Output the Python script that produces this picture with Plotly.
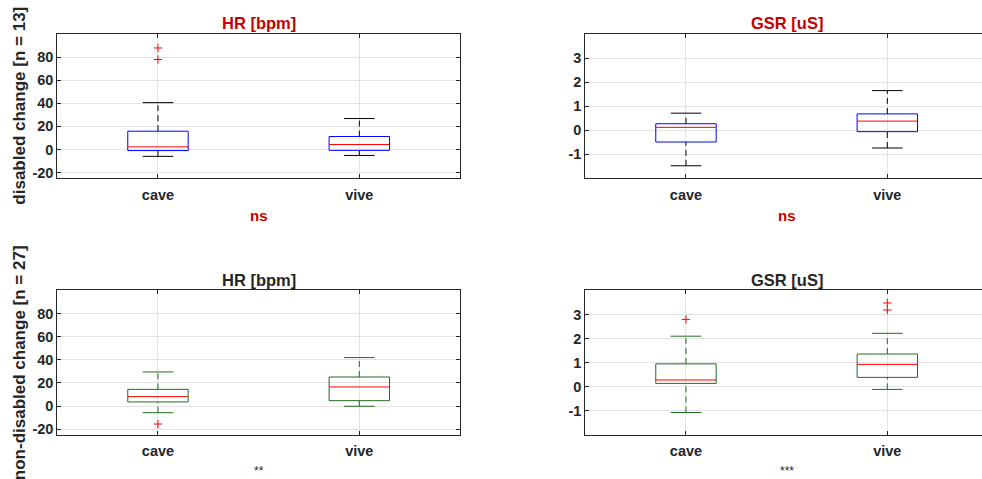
import plotly.graph_objects as go

# ---------------- data ----------------
categories = ["cave", "vive"]

# disabled (n = 13)
dis_hr_q1 = [-1.0, -0.8]
dis_hr_med = [2.2, 4.3]
dis_hr_q3 = [15.8, 11.2]
dis_hr_lo = [-6.0, -5.2]
dis_hr_hi = [40.6, 26.8]
dis_hr_out = [[88.0, 78.0], []]

dis_gsr_q1 = [-0.49, -0.06]
dis_gsr_med = [0.12, 0.38]
dis_gsr_q3 = [0.27, 0.68]
dis_gsr_lo = [-1.48, -0.74]
dis_gsr_hi = [0.71, 1.65]
dis_gsr_out = [[], []]

# non-disabled (n = 27)
nd_hr_q1 = [3.5, 4.6]
nd_hr_med = [8.1, 16.5]
nd_hr_q3 = [14.4, 25.1]
nd_hr_lo = [-5.8, -0.2]
nd_hr_hi = [29.5, 41.9]
nd_hr_out = [[-15.6], []]

nd_gsr_q1 = [0.14, 0.39]
nd_gsr_med = [0.28, 0.93]
nd_gsr_q3 = [0.95, 1.36]
nd_gsr_lo = [-1.07, -0.11]
nd_gsr_hi = [2.10, 2.22]
nd_gsr_out = [[2.80], [3.48, 3.19]]

hr_ticks = [-20, 0, 20, 40, 60, 80]
gsr_ticks = [-1, 0, 1, 2, 3]

# ---------------- style ----------------
W, H = 982, 479
TXT = "#262626"
RED_T = "#c40000"
BLUE = "#0000ff"
GREEN = "#226b22"
MED = "#ff0000"
GRID = "#e3e3e3"
FONT = "Liberation Sans, Arial, sans-serif"
BOX_HW = 0.15
CAP_HW = 0.076

fig = go.Figure()

panels = [
    ("x", "y", (dis_hr_q1, dis_hr_med, dis_hr_q3, dis_hr_lo, dis_hr_hi, dis_hr_out), BLUE, "#000000"),
    ("x2", "y2", (dis_gsr_q1, dis_gsr_med, dis_gsr_q3, dis_gsr_lo, dis_gsr_hi, dis_gsr_out), BLUE, "#000000"),
    ("x3", "y3", (nd_hr_q1, nd_hr_med, nd_hr_q3, nd_hr_lo, nd_hr_hi, nd_hr_out), GREEN, GREEN),
    ("x4", "y4", (nd_gsr_q1, nd_gsr_med, nd_gsr_q3, nd_gsr_lo, nd_gsr_hi, nd_gsr_out), GREEN, GREEN),
]

for xa, ya, stats, bcol, wcol in panels:
    q1s, meds, q3s, los, his, outs = stats
    for i in range(len(categories)):
        xc = i + 1
        common = dict(xaxis=xa, yaxis=ya, mode="lines", showlegend=False, hoverinfo="skip")
        # whiskers (dashed)
        fig.add_trace(go.Scatter(x=[xc, xc, None, xc, xc],
                                 y=[q3s[i], his[i], None, los[i], q1s[i]],
                                 line=dict(color=wcol, width=1, dash="6px,4px"), **common))
        # caps
        fig.add_trace(go.Scatter(x=[xc - CAP_HW, xc + CAP_HW, None, xc - CAP_HW, xc + CAP_HW],
                                 y=[his[i], his[i], None, los[i], los[i]],
                                 line=dict(color=wcol, width=1), **common))
        # box
        fig.add_trace(go.Scatter(x=[xc - BOX_HW, xc + BOX_HW, xc + BOX_HW, xc - BOX_HW, xc - BOX_HW],
                                 y=[q1s[i], q1s[i], q3s[i], q3s[i], q1s[i]],
                                 line=dict(color=bcol, width=1), **common))
        # median
        fig.add_trace(go.Scatter(x=[xc - BOX_HW, xc + BOX_HW], y=[meds[i], meds[i]],
                                 line=dict(color=MED, width=1), **common))
        # outliers
        if outs[i]:
            fig.add_trace(go.Scatter(x=[xc] * len(outs[i]), y=outs[i], xaxis=xa, yaxis=ya,
                                     mode="markers", showlegend=False, hoverinfo="skip",
                                     marker=dict(symbol="cross-thin", size=6,
                                                 line=dict(color=MED, width=1))))

# ---------------- axes ----------------
xl = [57.3 / W, 460.0 / W]
xr = [585.3 / W, 1.0]
yt = [1 - 179.0 / H, 1 - 34.3 / H]
yb = [1 - 436.7 / H, 1 - 291.7 / H]
px_per_unit = (460.0 - 57.3) / 2.0
right_max = 0.5 + (W - 585.3) / px_per_unit

tickfont = dict(family=FONT, size=14.5, color=TXT, weight="bold")


def xaxis(dom, anchor, rng):
    return dict(domain=dom, anchor=anchor, range=rng, tickvals=[1, 2], ticktext=categories,
                showgrid=True, gridcolor=GRID, gridwidth=1, zeroline=False,
                showline=True, linecolor=TXT, linewidth=1, mirror="ticks",
                ticks="inside", ticklen=4, tickcolor=TXT, tickfont=tickfont,
                ticklabelstandoff=3, fixedrange=True)


def yaxis(dom, anchor, rng, vals, mirror):
    return dict(domain=dom, anchor=anchor, range=rng, tickvals=vals,
                ticktext=[str(v) for v in vals],
                showgrid=True, gridcolor=GRID, gridwidth=1, zeroline=False,
                showline=True, linecolor=TXT, linewidth=1, mirror=mirror,
                ticks="inside", ticklen=4, tickcolor=TXT, tickfont=tickfont,
                fixedrange=True)


fig.update_layout(
    width=W, height=H,
    margin=dict(l=0, r=0, t=0, b=0),
    paper_bgcolor="white", plot_bgcolor="white",
    xaxis=xaxis(xl, "y", [0.5, 2.5]),
    yaxis=yaxis(yt, "x", [-25, 100], hr_ticks, "ticks"),
    xaxis2=xaxis(xr, "y2", [0.5, right_max]),
    yaxis2=yaxis(yt, "x2", [-2, 4], gsr_ticks, False),
    xaxis3=xaxis(xl, "y3", [0.5, 2.5]),
    yaxis3=yaxis(yb, "x3", [-25, 100], hr_ticks, "ticks"),
    xaxis4=xaxis(xr, "y4", [0.5, right_max]),
    yaxis4=yaxis(yb, "x4", [-2, 4], gsr_ticks, False),
)

# ---------------- text ----------------
def ann(text, x, y, size, color, angle=0, bold=True):
    t = f"<b>{text}</b>" if bold else text
    fig.add_annotation(text=t, x=x, y=y, xref="paper", yref="paper",
                       xanchor="center", yanchor="middle", showarrow=False,
                       textangle=angle, font=dict(family=FONT, size=size, color=color))


cl = (xl[0] + xl[1]) / 2
cr = (585.3 + 988.0) / 2 / W
ann("HR [bpm]", cl, 1 - 22.7 / H, 16.5, RED_T)
ann("GSR [uS]", cr, 1 - 22.7 / H, 16.5, RED_T)
ann("HR [bpm]", cl, 1 - 280.7 / H, 16.5, TXT)
ann("GSR [uS]", cr, 1 - 280.7 / H, 16.5, TXT)
ann("ns", cl, 1 - 216.7 / H, 15, RED_T)
ann("ns", cr, 1 - 216.7 / H, 15, RED_T)
ann("**", cl, 1 - 473.0 / H, 12, TXT, bold=False)
ann("***", cr, 1 - 473.0 / H, 12, TXT, bold=False)
ann("disabled change [n = 13]", 19.5 / W, 1 - 106.6 / H, 17, TXT, angle=-90)
ann("non-disabled change [n = 27]", 19.5 / W, 1 - 364.2 / H, 17, TXT, angle=-90)

fig.write_html("out.html")
